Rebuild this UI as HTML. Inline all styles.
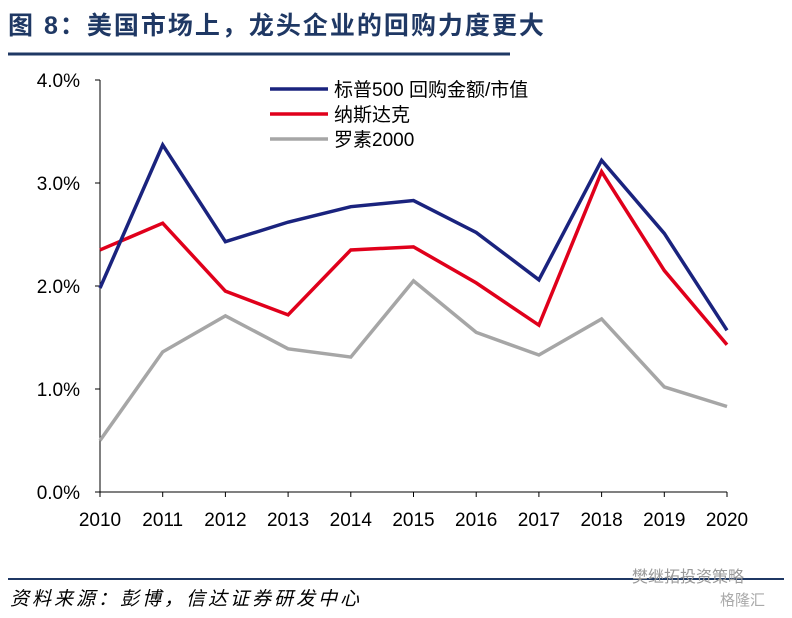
<!DOCTYPE html>
<html><head><meta charset="utf-8"><style>
body{margin:0;width:792px;height:613px;background:#fff;overflow:hidden;font-family:"Liberation Sans","Noto Sans CJK SC",sans-serif}
</style></head><body>
<svg width="792" height="613">
<text x="8" y="34" font-size="25" font-weight="bold" fill="#1f3864" letter-spacing="2" font-family="Liberation Sans,Noto Sans CJK SC,sans-serif">图 8：美国市场上，龙头企业的回购力度更大</text>
<line x1="8" y1="54" x2="510" y2="54" stroke="#1f3864" stroke-width="3"/>
<g id="plot"></g>
<line x1="8" y1="579" x2="784" y2="579" stroke="#1f3864" stroke-width="2"/>
<text x="10" y="605" font-size="19" font-style="italic" fill="#000" letter-spacing="3">资料来源：彭博，信达证券研发中心</text>
<text x="632" y="582" font-size="16" fill="#999">樊继拓投资策略</text>
<text x="720" y="605" font-size="15" fill="#aaa">格隆汇</text>
</svg>
<script>
const years=["2010","2011","2012","2013","2014","2015","2016","2017","2018","2019","2020"];
const sp500=[1.98,3.37,2.43,2.62,2.77,2.83,2.52,2.06,3.22,2.51,1.57];
const nasdaq=[2.35,2.61,1.95,1.72,2.35,2.38,2.03,1.62,3.11,2.15,1.43];
const russell=[0.50,1.36,1.71,1.39,1.31,2.05,1.55,1.33,1.68,1.02,0.83];
const yTicks=[0,1,2,3,4];
const yLabels=["0.0%","1.0%","2.0%","3.0%","4.0%"];
const seriesNames=["标普500 回购金额/市值","纳斯达克","罗素2000"];
const NS="http://www.w3.org/2000/svg";
const g=document.getElementById('plot');
const x0=100,x1=727,yb=492,yt=80;
const X=i=>x0+(x1-x0)*i/(years.length-1);
const Y=v=>yb-(yb-yt)*v/4;
function mk(t,a){const e=document.createElementNS(NS,t);for(const k in a)e.setAttribute(k,a[k]);g.appendChild(e);return e;}
let e=mk('line',{x1:x0,y1:yt,x2:x0,y2:yb,stroke:'#000','stroke-width':1});


e=mk('line',{x1:x0,y1:yb,x2:x1,y2:yb,stroke:'#000','stroke-width':1});


yTicks.forEach((v,i)=>{
 let t=mk('line',{x1:x0-5,y1:Y(v),x2:x0,y2:Y(v),stroke:'#000'});
 
 
 let l=mk('text',{x:x0-20,y:Y(v)+7,'font-size':19,'text-anchor':'end'});
 l.textContent=yLabels[i];
 
 
});
years.forEach((y,i)=>{
 let t=mk('line',{x1:X(i),y1:yb,x2:X(i),y2:yb+5,stroke:'#000'});
 
 
 let l=mk('text',{x:X(i),y:yb+34,'font-size':19,'text-anchor':'middle'});
 l.textContent=y;
 
 
});
const all=[sp500,nasdaq,russell],cols=['#1a237e','#e0001b','#a6a6a6'],ids=['sp500','nasdaq','russell2000'];
[2,1,0].forEach(k=>{
 let p=mk('polyline',{points:all[k].map((v,i)=>X(i)+','+Y(v)).join(' '),fill:'none',stroke:cols[k],'stroke-width':3.5,'stroke-linejoin':'miter'});
 
 
});
seriesNames.forEach((n,k)=>{
 const ly=89+k*25;
 let l=mk('line',{x1:270,y1:ly,x2:328,y2:ly,stroke:cols[k],'stroke-width':3.5});
 
 
 let t=mk('text',{x:334,y:ly+7,'font-size':19});
 t.textContent=n;
 
 
});
</script>
</body></html>
